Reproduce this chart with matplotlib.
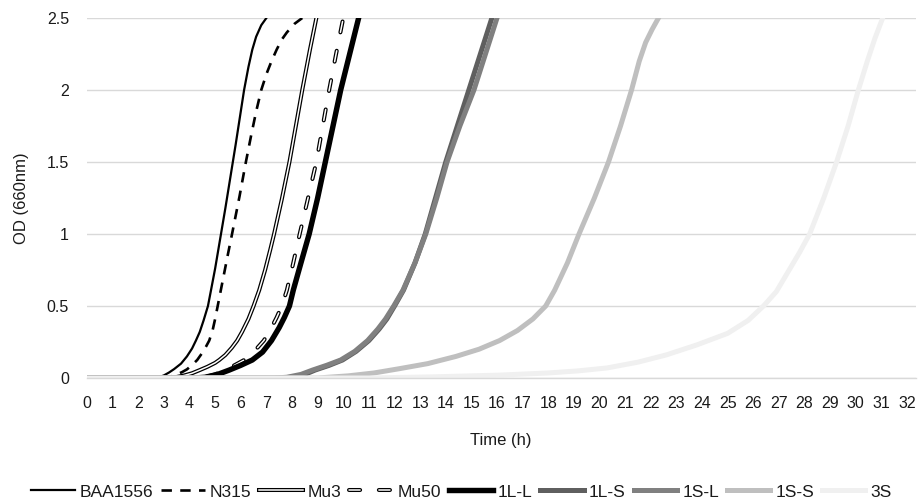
import matplotlib
matplotlib.use("Agg")
import matplotlib.pyplot as plt
import matplotlib.patheffects as pe

plt.rcParams['font.family'] = ['Liberation Sans', 'DejaVu Sans']
plt.rcParams['lines.scale_dashes'] = False

# ---- data ----
baa_x = [0, 2.6, 2.8, 3.0, 3.2, 3.4, 3.67, 3.9, 4.1, 4.25, 4.4, 4.55, 4.72, 4.85, 5.0,
         5.2, 5.4, 5.6, 5.8, 6.0, 6.13, 6.3, 6.45, 6.6, 6.8, 7.0]
baa_y = [0, 0, 0.005, 0.018, 0.038, 0.062, 0.1, 0.15, 0.205, 0.26, 0.32, 0.4, 0.5, 0.62, 0.76,
         0.97, 1.18, 1.4, 1.62, 1.85, 2.0, 2.16, 2.28, 2.37, 2.45, 2.5]

n315_x = [0, 2.9, 3.1, 3.3, 3.5, 3.7, 3.9, 4.1, 4.3, 4.5, 4.65, 4.77, 4.9, 5.0, 5.1, 5.3, 5.5,
          5.66, 5.95, 6.2, 6.4, 6.6, 6.8, 7.0, 7.2, 7.4, 7.6, 7.8, 8.1, 8.4]
n315_y = [0, 0, 0.003, 0.012, 0.025, 0.04, 0.06, 0.09, 0.125, 0.175, 0.22, 0.26, 0.33, 0.41, 0.5,
          0.68, 0.86, 1.0, 1.26, 1.5, 1.68, 1.85, 2.0, 2.11, 2.2, 2.28, 2.35, 2.4, 2.46, 2.5]

mu3_x = [0, 3.2, 3.5, 3.8, 4.1, 4.4, 4.7, 5.0, 5.16, 5.4, 5.65, 5.86, 6.05, 6.3, 6.5, 6.72,
         6.95, 7.15, 7.3, 7.6, 7.9, 8.15, 8.4, 8.7, 8.95]
mu3_y = [0, 0, 0.007, 0.018, 0.033, 0.055, 0.078, 0.105, 0.125, 0.16, 0.21, 0.26, 0.32, 0.41, 0.5, 0.61,
         0.75, 0.89, 1.0, 1.24, 1.5, 1.75, 2.0, 2.28, 2.5]

mu50_x = [0, 4.2, 4.6, 5.0, 5.35, 5.75, 6.13, 6.5, 6.9, 7.2, 7.4, 7.6, 7.8, 8.05, 8.3, 8.6,
          8.95, 9.2, 9.45, 9.72, 10.0]
mu50_y = [0, 0, 0.006, 0.025, 0.055, 0.088, 0.125, 0.18, 0.26, 0.35, 0.42, 0.5, 0.61, 0.8, 1.0, 1.23,
          1.5, 1.75, 2.0, 2.25, 2.5]

l1ll_x = [0, 4.2, 4.6, 5.1, 5.55, 6.0, 6.45, 6.85, 7.2, 7.5, 7.7, 7.9, 8.05, 8.35, 8.67, 9.0,
          9.3, 9.6, 9.9, 10.25, 10.6]
l1ll_y = [0, 0, 0.005, 0.025, 0.055, 0.088, 0.125, 0.18, 0.26, 0.35, 0.42, 0.5, 0.61, 0.8, 1.0, 1.25,
          1.5, 1.75, 2.0, 2.25, 2.5]

l1ls_x = [0, 7.5, 8.0, 8.5, 8.9, 9.45, 9.97, 10.5, 11.0, 11.4, 11.7, 12.0, 12.35, 12.8, 13.2,
          13.6, 14.0, 14.45, 14.9, 15.35, 15.8]
l1ls_y = [0, 0, 0.005, 0.025, 0.055, 0.088, 0.125, 0.185, 0.26, 0.34, 0.41, 0.5, 0.61, 0.8, 1.0,
          1.25, 1.5, 1.75, 2.0, 2.25, 2.5]

s1sl_x = [0, 7.3, 7.8, 8.35, 8.8, 9.35, 9.9, 10.45, 10.95, 11.35, 11.65, 11.97, 12.33, 12.8, 13.22,
          13.65, 14.05, 14.55, 15.1, 15.55, 16.0]
s1sl_y = [0, 0, 0.005, 0.025, 0.055, 0.088, 0.125, 0.185, 0.26, 0.34, 0.41, 0.5, 0.61, 0.8, 1.0,
          1.25, 1.5, 1.75, 2.0, 2.25, 2.5]

s1ss_x = [0, 9.0, 10.2, 11.2, 12.2, 13.3, 14.4, 15.3, 16.1, 16.8, 17.4, 17.9, 18.25, 18.75, 19.2,
          19.8, 20.35, 20.82, 21.25, 21.55, 21.8, 22.05, 22.3]
s1ss_y = [0, 0, 0.015, 0.035, 0.065, 0.1, 0.15, 0.2, 0.26, 0.33, 0.41, 0.5, 0.61, 0.8, 1.0,
          1.25, 1.5, 1.75, 2.0, 2.2, 2.33, 2.42, 2.5]

s3_x = [0, 11, 13.5, 16.1, 18.0, 19.2, 20.3, 21.5, 22.6, 23.8, 25.0, 25.8, 26.4, 26.9, 27.3,
        27.8, 28.2, 28.75, 29.25, 29.7, 30.1, 30.45, 30.75, 31.05]
s3_y = [0, 0, 0.008, 0.02, 0.035, 0.05, 0.07, 0.11, 0.16, 0.23, 0.31, 0.4, 0.5, 0.6, 0.72,
        0.87, 1.0, 1.25, 1.5, 1.75, 2.0, 2.2, 2.36, 2.5]

labels = ['BAA1556', 'N315', 'Mu3', 'Mu50', '1L-L', '1L-S', '1S-L', '1S-S', '3S']
x_ticks = list(range(0, 33))
y_ticks = [0, 0.5, 1, 1.5, 2, 2.5]
y_tick_labels = ['0', '0.5', '1', '1.5', '2', '2.5']

# ---- figure ----
fig = plt.figure(figsize=(9.23, 5.04), dpi=100)
ax = fig.add_axes([87/923, 1-378/504, (916-87)/923, (378-18)/504])

txt = '#1a1a1a'
grid_c = '#d9d9d9'

ax.plot(baa_x, baa_y, color='black', lw=1.6, label=labels[0])
ax.plot(n315_x, n315_y, color='black', lw=1.9, dashes=(7.5, 6), label=labels[1])
ax.plot(mu3_x, mu3_y, color='white', lw=1.1, label=labels[2],
        path_effects=[pe.Stroke(linewidth=2.9, foreground='black'), pe.Normal()])
ax.plot(mu50_x, mu50_y, color='white', lw=1.1, dashes=(8, 13.5), dash_capstyle='round',
        label=labels[3],
        path_effects=[pe.Stroke(linewidth=2.9, foreground='black'), pe.Normal()])
ax.plot(l1ll_x, l1ll_y, color='black', lw=3.9, label=labels[4])
ax.plot(l1ls_x, l1ls_y, color='#5f5f5f', lw=3.6, label=labels[5])
ax.plot(s1sl_x, s1sl_y, color='#808080', lw=3.6, label=labels[6])
ax.plot(s1ss_x, s1ss_y, color='#bfbfbf', lw=3.6, label=labels[7])
ax.plot(s3_x, s3_y, color='#f0f0f0', lw=3.6, label=labels[8])

ax.set_xlim(0, 32.35)
ax.set_ylim(0, 2.5)
ax.set_xticks(x_ticks)
ax.set_xticklabels([str(t) for t in x_ticks])
ax.set_yticks(y_ticks)
ax.set_yticklabels(y_tick_labels)
ax.tick_params(axis='both', length=0, labelsize=11.5, colors=txt)
ax.tick_params(axis='x', pad=13)
ax.tick_params(axis='y', pad=13)
ax.grid(axis='y', color=grid_c, lw=1.0)
ax.set_axisbelow(True)
for s in ['top', 'right', 'left']:
    ax.spines[s].set_visible(False)
ax.spines['bottom'].set_color(grid_c)
ax.spines['bottom'].set_linewidth(1.0)

fig.text(501/923, 1-440/504, 'Time (h)', fontsize=12, color=txt, ha='center', va='center')
fig.text(22/923, 1-198/504, 'OD (660nm)', fontsize=12, color=txt, ha='center', va='center',
         rotation=90)

handles, labs = ax.get_legend_handles_labels()
fig.legend(handles, labs, loc='center', bbox_to_anchor=(0.5, 1-492/504), ncol=9,
           frameon=False, fontsize=12.5, handlelength=2.5, handletextpad=0.3,
           columnspacing=0.45, labelcolor=txt, borderpad=0.1)

fig.savefig('out.png', dpi=100)
